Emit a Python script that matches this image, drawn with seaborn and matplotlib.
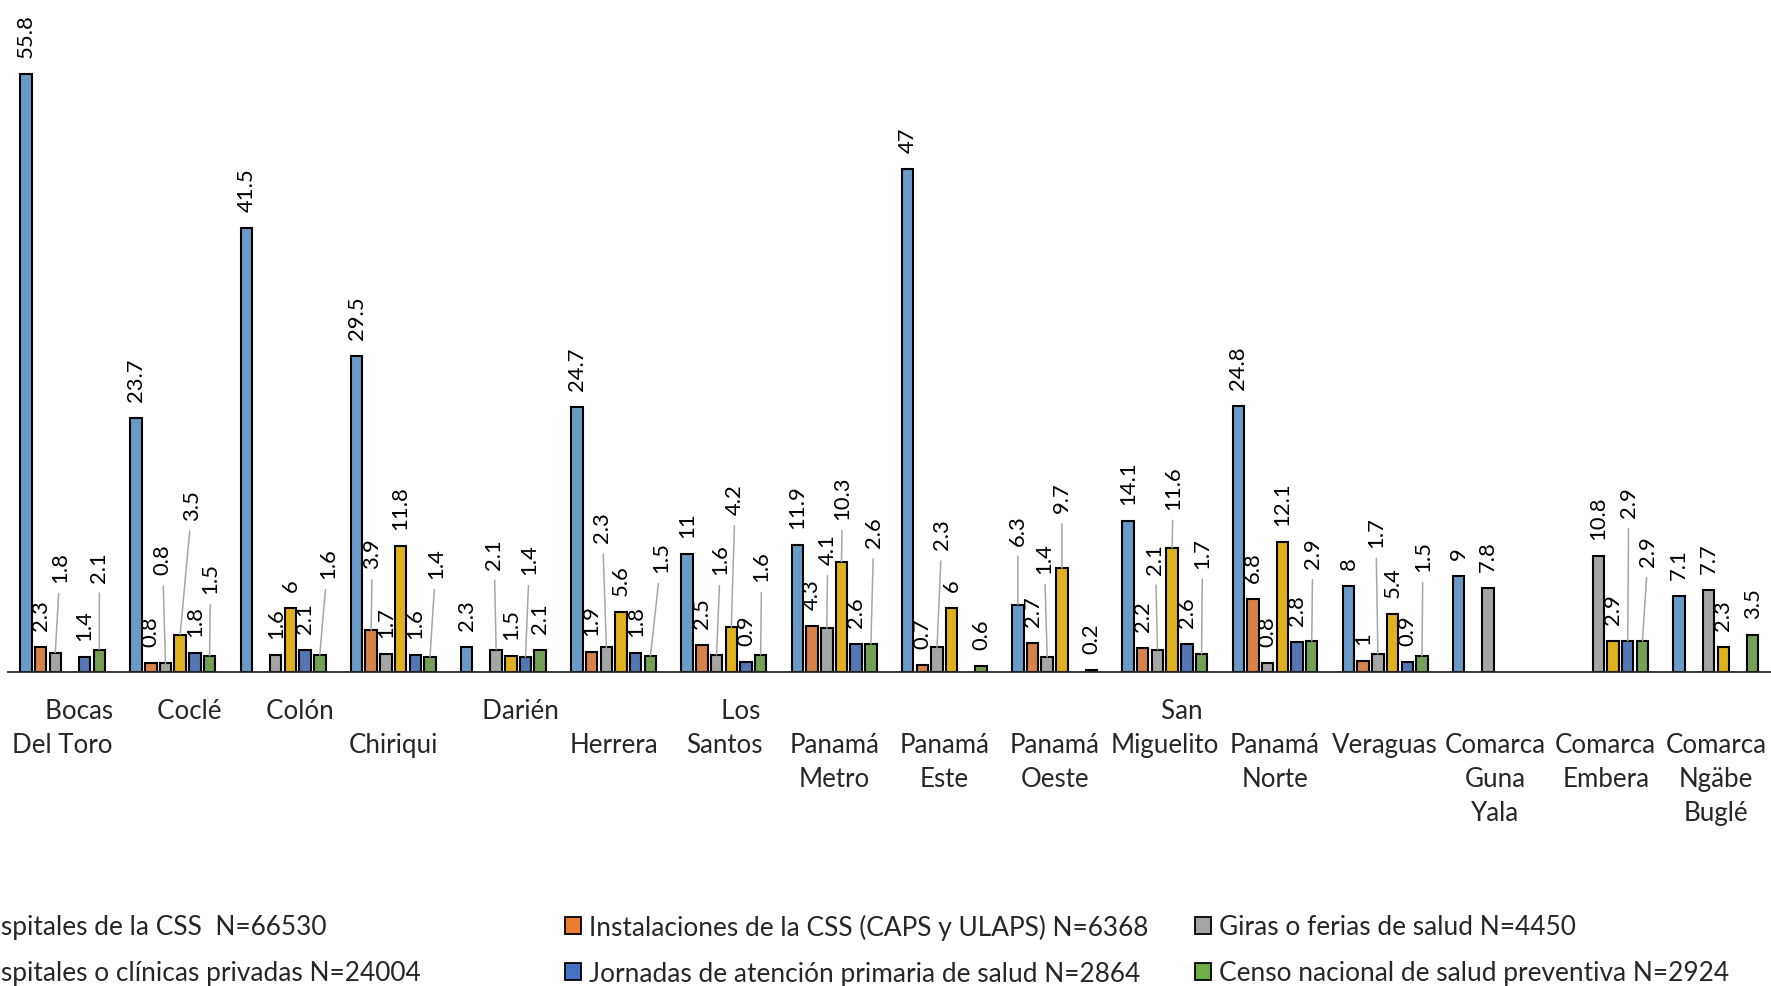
import numpy as np
import pandas as pd
import matplotlib
matplotlib.use("Agg")
import matplotlib.pyplot as plt
import seaborn as sns
from matplotlib.patches import Patch

nan = np.nan

# Regions (x categories) and how each name wraps under the axis
regions = ["Bocas Del Toro", "Coclé", "Colón", "Chiriqui", "Darién", "Herrera",
           "Los Santos", "Panamá Metro", "Panamá Este", "Panamá Oeste",
           "San Miguelito", "Panamá Norte", "Veraguas", "Comarca Guna Yala",
           "Comarca Embera", "Comarca Ngäbe Buglé"]
region_labels = ["     Bocas\nDel Toro", "     Coclé", "     Colón", "\nChiriqui",
                 "     Darién", "\nHerrera", "     Los\nSantos", "\nPanamá\nMetro",
                 "\nPanamá\nEste", "\nPanamá\nOeste", "     San\nMiguelito",
                 "\nPanamá\nNorte", "\nVeraguas", "\nComarca\nGuna\nYala",
                 "\nComarca\nEmbera", "\nComarca\nNgäbe\nBuglé"]

# Services (hue levels)
services = ["Hospitales de la CSS  N=66530",
            "Instalaciones de la CSS (CAPS y ULAPS) N=6368",
            "Giras o ferias de salud N=4450",
            "Hospitales o clínicas privadas N=24004",
            "Jornadas de atención primaria de salud N=2864",
            "Censo nacional de salud preventiva N=2924"]
colors = ["#5B9BD5", "#ED7D31", "#A5A5A5", "#FFC000", "#4472C4", "#70AD47"]

# Percentages per region, one list per service (nan = no bar)
hosp_css = [55.8, 23.7, 41.5, 29.5, 2.3, 24.7, 11, 11.9, 47, 6.3, 14.1, 24.8, 8, 9, nan, 7.1]
inst_css = [2.3, 0.8, nan, 3.9, nan, 1.9, 2.5, 4.3, 0.7, 2.7, 2.2, 6.8, 1, nan, nan, nan]
giras = [1.8, 0.8, 1.6, 1.7, 2.1, 2.3, 1.6, 4.1, 2.3, 1.4, 2.1, 0.8, 1.7, 7.8, 10.8, 7.7]
hosp_priv = [nan, 3.5, 6, 11.8, 1.5, 5.6, 4.2, 10.3, 6, 9.7, 11.6, 12.1, 5.4, nan, 2.9, 2.3]
jornadas = [1.4, 1.8, 2.1, 1.6, 1.4, 1.8, 0.9, 2.6, nan, nan, 2.6, 2.8, 0.9, nan, 2.9, nan]
censo = [2.1, 1.5, 1.6, 1.4, 2.1, 1.5, 1.6, 2.6, 0.6, 0.2, 1.7, 2.9, 1.5, nan, 2.9, 3.5]
series = [hosp_css, inst_css, giras, hosp_priv, jornadas, censo]

# Value labels lifted above crowded bars: (pixels above bar top, horizontal shift)
label_moves = {
    ("Bocas Del Toro", 2): (71, 5), ("Bocas Del Toro", 5): (68, 0),
    ("Coclé", 2): (89, -3), ("Coclé", 3): (115, 12), ("Coclé", 5): (63, 1),
    ("Colón", 5): (77, 8),
    ("Chiriqui", 1): (62, 1), ("Chiriqui", 5): (79, 6),
    ("Darién", 2): (81, -2), ("Darién", 4): (83, 4),
    ("Herrera", 2): (105, -4), ("Herrera", 5): (84, 11),
    ("Los Santos", 2): (81, 4), ("Los Santos", 3): (113, 4), ("Los Santos", 5): (74, 1),
    ("Panamá Metro", 2): (64, 1), ("Panamá Metro", 3): (43, 1), ("Panamá Metro", 5): (97, 3),
    ("Panamá Este", 2): (98, 5),
    ("Panamá Oeste", 0): (60, 0), ("Panamá Oeste", 2): (84, -3), ("Panamá Oeste", 3): (56, 0),
    ("San Miguelito", 2): (76, -2), ("San Miguelito", 3): (39, 1), ("San Miguelito", 5): (86, 1),
    ("Panamá Norte", 5): (73, 1),
    ("Veraguas", 2): (107, -2), ("Veraguas", 5): (85, 1),
    ("Comarca Embera", 4): (124, 1), ("Comarca Embera", 5): (75, 6),
}
LABEL_GAP = 17

sns.set_style("white")
plt.rcParams["font.family"] = ["Lato", "DejaVu Sans"]
FS_CAT = 18.6
FS_LEG = 18.9
FS_VAL = 15.8

rows = []
for svc, vals in zip(services, series):
    for reg, v in zip(regions, vals):
        rows.append({"region": reg, "service": svc, "pct": v})
df = pd.DataFrame(rows).dropna()

W, H = 1771, 987
fig = plt.figure(figsize=(W / 100, H / 100), dpi=100)
ax = fig.add_axes([7.5 / W, (H - 673) / H, 1 - 7.5 / W, 673 / H])

sns.barplot(data=df, x="region", y="pct", hue="service", order=regions,
            hue_order=services, palette=dict(zip(services, colors)),
            width=0.8, gap=0.22, errorbar=None, legend=False,
            edgecolor="black", linewidth=1.5, ax=ax)

ax.set_xlim(-0.5, len(regions) - 0.5)
ax.set_ylim(0, 62.84)
ax.set_yticks([])
ax.set_xlabel("")
ax.set_ylabel("")
for s in ["left", "top", "right"]:
    ax.spines[s].set_visible(False)
ax.spines["bottom"].set_color("#262626")
ax.spines["bottom"].set_linewidth(1.3)
ax.set_xticks(range(len(regions)))
ax.set_xticklabels(region_labels, fontsize=FS_CAT, linespacing=1.44)
ax.tick_params(axis="x", length=0, pad=19)

# Value labels
slot = 0.8 / len(services)
for patch in list(ax.patches):
    h = patch.get_height()
    if not np.isfinite(h) or h <= 0:
        continue
    xc = patch.get_x() + patch.get_width() / 2
    ci = int(round(xc))
    si = int(round((xc - ci) / slot + (len(services) - 1) / 2))
    key = (regions[ci], si)
    if key in label_moves:
        up, dx = label_moves[key]
        arrow = dict(arrowstyle="-", color="#A6A6A6", lw=1.1, shrinkA=6, shrinkB=0)
    else:
        up, dx = LABEL_GAP, 0
        arrow = None
    ax.annotate(f"{h:g}", xy=(xc, h), xytext=(dx, up), textcoords="offset pixels",
                rotation=90, ha="center", va="bottom", fontsize=FS_VAL,
                color="black", arrowprops=arrow, annotation_clip=False)

# Legend: three columns of two entries
handles = [Patch(facecolor=c, edgecolor="black", linewidth=1.3) for c in colors]
col_x = [-58 / W, 565 / W, 1195 / W]
for xa, idx in zip(col_x, [[0, 3], [1, 4], [2, 5]]):
    fig.legend([handles[i] for i in idx], [services[i] for i in idx],
               loc="center left", bbox_to_anchor=(xa, (H - 951) / H),
               frameon=False, fontsize=FS_LEG, handlelength=0.6, handleheight=0.6,
               handletextpad=0.32, labelspacing=0.8, borderpad=0, borderaxespad=0)

fig.savefig("out.png", dpi=100)
